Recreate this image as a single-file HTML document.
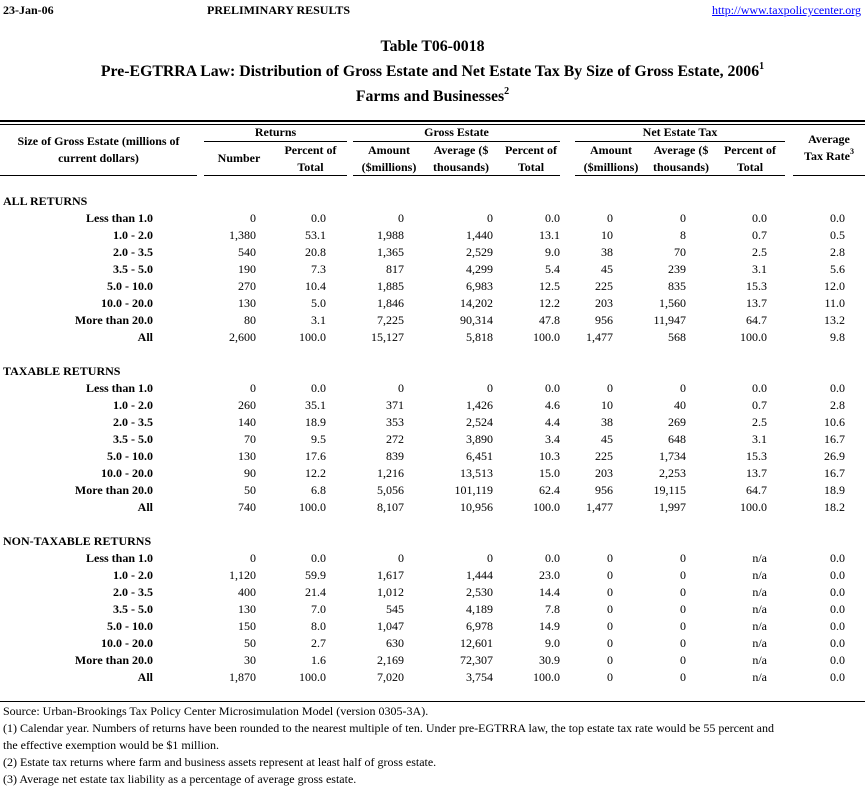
<!DOCTYPE html>
<html><head><meta charset="utf-8"><style>
body{margin:0;width:865px;height:788px;background:#fff;position:relative;font-family:"Liberation Serif",serif;font-size:12px;color:#000;overflow:hidden}
div.t{position:absolute;white-space:nowrap;line-height:14px;height:14px}
.b{font-weight:bold}
.r{position:absolute;left:0;width:865px;height:14px;line-height:14px}
.r span{position:absolute;white-space:nowrap}
.l{right:712px;font-weight:bold}
.c1{right:609px}.c2{right:539px}.c3{right:461px}.c4{right:372px}.c5{right:305px}.c6{right:252px}.c7{right:179px}.c8{right:98px}.c9{right:20px}
.h{position:absolute;background:#000;height:1px}
.hc{position:absolute;text-align:center;font-weight:bold;line-height:17px}
sup{font-size:8px;vertical-align:top;line-height:8px}
</style></head><body>
<div class="t b" style="left:3px;top:3px">23-Jan-06</div>
<div class="t b" style="left:207px;top:3px">PRELIMINARY RESULTS</div>
<div class="t" style="right:4px;top:3px;color:#00f;text-decoration:underline">http://www.taxpolicycenter.org</div>
<div class="t b" style="left:0;width:865px;text-align:center;top:38px;font-size:15.8px;height:18px;line-height:18px">Table T06-0018</div>
<div class="t b" style="left:0;width:865px;text-align:center;top:63px;font-size:15.8px;height:18px;line-height:18px">Pre-EGTRRA Law: Distribution of Gross Estate and Net Estate Tax By Size of Gross Estate, 2006<sup style="font-size:10px">1</sup></div>
<div class="t b" style="left:0;width:865px;text-align:center;top:88px;font-size:15.8px;height:18px;line-height:18px">Farms and Businesses<sup style="font-size:10px">2</sup></div>

<div class="h" style="left:0;width:865px;top:120px;height:2px"></div>
<div class="h" style="left:0;width:865px;top:124px"></div>

<div class="hc" style="left:0;width:197px;top:133px">Size of Gross Estate (millions of<br>current dollars)</div>
<div class="hc" style="left:204px;width:143px;top:124px">Returns</div>
<div class="hc" style="left:353px;width:207px;top:124px">Gross Estate</div>
<div class="hc" style="left:575px;width:210px;top:124px">Net Estate Tax</div>
<div class="h" style="left:204px;width:143px;top:141px"></div>
<div class="h" style="left:353px;width:207px;top:141px"></div>
<div class="h" style="left:575px;width:210px;top:141px"></div>
<div class="hc" style="left:204px;width:70px;top:150px">Number</div>
<div class="hc" style="left:274px;width:73px;top:142px">Percent of<br>Total</div>
<div class="hc" style="left:353px;width:72px;top:142px">Amount<br>($millions)</div>
<div class="hc" style="left:425px;width:72px;top:142px">Average ($<br>thousands)</div>
<div class="hc" style="left:497px;width:68px;top:142px">Percent of<br>Total</div>
<div class="hc" style="left:575px;width:72px;top:142px">Amount<br>($millions)</div>
<div class="hc" style="left:645px;width:72px;top:142px">Average ($<br>thousands)</div>
<div class="hc" style="left:715px;width:70px;top:142px">Percent of<br>Total</div>
<div class="hc" style="left:793px;width:72px;top:131px">Average<br>Tax Rate<sup>3</sup></div>
<div class="h" style="left:0;width:197px;top:175px"></div>
<div class="h" style="left:204px;width:143px;top:175px"></div>
<div class="h" style="left:353px;width:207px;top:175px"></div>
<div class="h" style="left:575px;width:210px;top:175px"></div>
<div class="h" style="left:793px;width:72px;top:175px"></div>

<div class="t b" style="left:3px;top:194px">ALL RETURNS</div>
<div class="r" style="top:211px"><span class="l">Less than 1.0</span><span class="c1">0</span><span class="c2">0.0</span><span class="c3">0</span><span class="c4">0</span><span class="c5">0.0</span><span class="c6">0</span><span class="c7">0</span><span class="c8">0.0</span><span class="c9">0.0</span></div>
<div class="r" style="top:228px"><span class="l">1.0 - 2.0</span><span class="c1">1,380</span><span class="c2">53.1</span><span class="c3">1,988</span><span class="c4">1,440</span><span class="c5">13.1</span><span class="c6">10</span><span class="c7">8</span><span class="c8">0.7</span><span class="c9">0.5</span></div>
<div class="r" style="top:245px"><span class="l">2.0 - 3.5</span><span class="c1">540</span><span class="c2">20.8</span><span class="c3">1,365</span><span class="c4">2,529</span><span class="c5">9.0</span><span class="c6">38</span><span class="c7">70</span><span class="c8">2.5</span><span class="c9">2.8</span></div>
<div class="r" style="top:262px"><span class="l">3.5 - 5.0</span><span class="c1">190</span><span class="c2">7.3</span><span class="c3">817</span><span class="c4">4,299</span><span class="c5">5.4</span><span class="c6">45</span><span class="c7">239</span><span class="c8">3.1</span><span class="c9">5.6</span></div>
<div class="r" style="top:279px"><span class="l">5.0 - 10.0</span><span class="c1">270</span><span class="c2">10.4</span><span class="c3">1,885</span><span class="c4">6,983</span><span class="c5">12.5</span><span class="c6">225</span><span class="c7">835</span><span class="c8">15.3</span><span class="c9">12.0</span></div>
<div class="r" style="top:296px"><span class="l">10.0 - 20.0</span><span class="c1">130</span><span class="c2">5.0</span><span class="c3">1,846</span><span class="c4">14,202</span><span class="c5">12.2</span><span class="c6">203</span><span class="c7">1,560</span><span class="c8">13.7</span><span class="c9">11.0</span></div>
<div class="r" style="top:313px"><span class="l">More than 20.0</span><span class="c1">80</span><span class="c2">3.1</span><span class="c3">7,225</span><span class="c4">90,314</span><span class="c5">47.8</span><span class="c6">956</span><span class="c7">11,947</span><span class="c8">64.7</span><span class="c9">13.2</span></div>
<div class="r" style="top:330px"><span class="l">All</span><span class="c1">2,600</span><span class="c2">100.0</span><span class="c3">15,127</span><span class="c4">5,818</span><span class="c5">100.0</span><span class="c6">1,477</span><span class="c7">568</span><span class="c8">100.0</span><span class="c9">9.8</span></div>

<div class="t b" style="left:3px;top:364px">TAXABLE RETURNS</div>
<div class="r" style="top:381px"><span class="l">Less than 1.0</span><span class="c1">0</span><span class="c2">0.0</span><span class="c3">0</span><span class="c4">0</span><span class="c5">0.0</span><span class="c6">0</span><span class="c7">0</span><span class="c8">0.0</span><span class="c9">0.0</span></div>
<div class="r" style="top:398px"><span class="l">1.0 - 2.0</span><span class="c1">260</span><span class="c2">35.1</span><span class="c3">371</span><span class="c4">1,426</span><span class="c5">4.6</span><span class="c6">10</span><span class="c7">40</span><span class="c8">0.7</span><span class="c9">2.8</span></div>
<div class="r" style="top:415px"><span class="l">2.0 - 3.5</span><span class="c1">140</span><span class="c2">18.9</span><span class="c3">353</span><span class="c4">2,524</span><span class="c5">4.4</span><span class="c6">38</span><span class="c7">269</span><span class="c8">2.5</span><span class="c9">10.6</span></div>
<div class="r" style="top:432px"><span class="l">3.5 - 5.0</span><span class="c1">70</span><span class="c2">9.5</span><span class="c3">272</span><span class="c4">3,890</span><span class="c5">3.4</span><span class="c6">45</span><span class="c7">648</span><span class="c8">3.1</span><span class="c9">16.7</span></div>
<div class="r" style="top:449px"><span class="l">5.0 - 10.0</span><span class="c1">130</span><span class="c2">17.6</span><span class="c3">839</span><span class="c4">6,451</span><span class="c5">10.3</span><span class="c6">225</span><span class="c7">1,734</span><span class="c8">15.3</span><span class="c9">26.9</span></div>
<div class="r" style="top:466px"><span class="l">10.0 - 20.0</span><span class="c1">90</span><span class="c2">12.2</span><span class="c3">1,216</span><span class="c4">13,513</span><span class="c5">15.0</span><span class="c6">203</span><span class="c7">2,253</span><span class="c8">13.7</span><span class="c9">16.7</span></div>
<div class="r" style="top:483px"><span class="l">More than 20.0</span><span class="c1">50</span><span class="c2">6.8</span><span class="c3">5,056</span><span class="c4">101,119</span><span class="c5">62.4</span><span class="c6">956</span><span class="c7">19,115</span><span class="c8">64.7</span><span class="c9">18.9</span></div>
<div class="r" style="top:500px"><span class="l">All</span><span class="c1">740</span><span class="c2">100.0</span><span class="c3">8,107</span><span class="c4">10,956</span><span class="c5">100.0</span><span class="c6">1,477</span><span class="c7">1,997</span><span class="c8">100.0</span><span class="c9">18.2</span></div>

<div class="t b" style="left:3px;top:534px">NON-TAXABLE RETURNS</div>
<div class="r" style="top:551px"><span class="l">Less than 1.0</span><span class="c1">0</span><span class="c2">0.0</span><span class="c3">0</span><span class="c4">0</span><span class="c5">0.0</span><span class="c6">0</span><span class="c7">0</span><span class="c8">n/a</span><span class="c9">0.0</span></div>
<div class="r" style="top:568px"><span class="l">1.0 - 2.0</span><span class="c1">1,120</span><span class="c2">59.9</span><span class="c3">1,617</span><span class="c4">1,444</span><span class="c5">23.0</span><span class="c6">0</span><span class="c7">0</span><span class="c8">n/a</span><span class="c9">0.0</span></div>
<div class="r" style="top:585px"><span class="l">2.0 - 3.5</span><span class="c1">400</span><span class="c2">21.4</span><span class="c3">1,012</span><span class="c4">2,530</span><span class="c5">14.4</span><span class="c6">0</span><span class="c7">0</span><span class="c8">n/a</span><span class="c9">0.0</span></div>
<div class="r" style="top:602px"><span class="l">3.5 - 5.0</span><span class="c1">130</span><span class="c2">7.0</span><span class="c3">545</span><span class="c4">4,189</span><span class="c5">7.8</span><span class="c6">0</span><span class="c7">0</span><span class="c8">n/a</span><span class="c9">0.0</span></div>
<div class="r" style="top:619px"><span class="l">5.0 - 10.0</span><span class="c1">150</span><span class="c2">8.0</span><span class="c3">1,047</span><span class="c4">6,978</span><span class="c5">14.9</span><span class="c6">0</span><span class="c7">0</span><span class="c8">n/a</span><span class="c9">0.0</span></div>
<div class="r" style="top:636px"><span class="l">10.0 - 20.0</span><span class="c1">50</span><span class="c2">2.7</span><span class="c3">630</span><span class="c4">12,601</span><span class="c5">9.0</span><span class="c6">0</span><span class="c7">0</span><span class="c8">n/a</span><span class="c9">0.0</span></div>
<div class="r" style="top:653px"><span class="l">More than 20.0</span><span class="c1">30</span><span class="c2">1.6</span><span class="c3">2,169</span><span class="c4">72,307</span><span class="c5">30.9</span><span class="c6">0</span><span class="c7">0</span><span class="c8">n/a</span><span class="c9">0.0</span></div>
<div class="r" style="top:670px"><span class="l">All</span><span class="c1">1,870</span><span class="c2">100.0</span><span class="c3">7,020</span><span class="c4">3,754</span><span class="c5">100.0</span><span class="c6">0</span><span class="c7">0</span><span class="c8">n/a</span><span class="c9">0.0</span></div>

<div class="h" style="left:0;width:865px;top:701px"></div>
<div class="t" style="left:3px;top:704px">Source: Urban-Brookings Tax Policy Center Microsimulation Model (version 0305-3A).</div>
<div class="t" style="left:3px;top:721px">(1) Calendar year. Numbers of returns have been rounded to the nearest multiple of ten. Under pre-EGTRRA law, the top estate tax rate would be 55 percent and</div>
<div class="t" style="left:3px;top:738px">the effective exemption would be $1 million.</div>
<div class="t" style="left:3px;top:755px">(2) Estate tax returns where farm and business assets represent at least half of gross estate.</div>
<div class="t" style="left:3px;top:772px">(3) Average net estate tax liability as a percentage of average gross estate.</div>
</body></html>
